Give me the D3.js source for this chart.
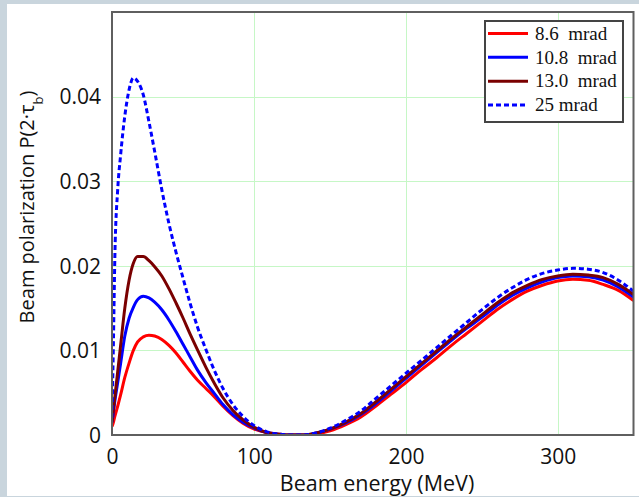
<!DOCTYPE html>
<html>
<head>
<meta charset="utf-8">
<script src="https://cdn.jsdelivr.net/npm/d3@7"></script>
<style>
  html, body { margin: 0; padding: 0; background: #c9d5dd; }
  svg { display: block; }
</style>
</head>
<body>
<svg id="chart" width="639" height="497"></svg>
<script>
// Beam energy grid (MeV)
const energy = [0, 1, 2, 4, 6, 9, 12, 15, 18, 22, 26, 30, 35, 40, 45, 50, 55, 60, 66, 72, 78, 85, 92,
  100, 108, 116, 124, 132, 140, 150, 160, 170, 180, 190, 200, 210, 220, 230, 240, 250, 260, 270,
  280, 290, 300, 310, 320, 330, 340, 350];

// Beam polarization P(2·τb) for each collimation angle
const pol_8_6 = [0.0010, 0.0015, 0.0022, 0.0034, 0.0047, 0.0068, 0.0085, 0.0100, 0.0110, 0.0116, 0.0118,
  0.0117, 0.0113, 0.0106, 0.0097, 0.0086, 0.0075, 0.0065, 0.0055, 0.0045, 0.0034, 0.0023, 0.0014,
  0.0007, 0.0003, 0.0001, 0.0000, 0.0000, 0.0001, 0.0005, 0.0012, 0.0021, 0.0034, 0.0048, 0.0062,
  0.0077, 0.0091, 0.0106, 0.0120, 0.0134, 0.0148, 0.0160, 0.0170, 0.0177, 0.0182, 0.0184, 0.0183,
  0.0178, 0.0171, 0.0159];
const pol_10_8 = [0.0015, 0.0027, 0.0040, 0.0062, 0.0084, 0.0117, 0.0138, 0.0151, 0.0160, 0.0164, 0.0162,
  0.0157, 0.0148, 0.0136, 0.0122, 0.0107, 0.0092, 0.0077, 0.0062, 0.0049, 0.0036, 0.0024, 0.0015,
  0.0008, 0.0003, 0.0001, 0.0000, 0.0000, 0.0002, 0.0007, 0.0014, 0.0024, 0.0037, 0.0052, 0.0067,
  0.0082, 0.0097, 0.0112, 0.0126, 0.0139, 0.0153, 0.0165, 0.0174, 0.0181, 0.0186, 0.0188, 0.0187,
  0.0183, 0.0175, 0.0163];
const pol_13_0 = [0.0015, 0.0030, 0.0045, 0.0075, 0.0105, 0.0150, 0.0183, 0.0203, 0.0211, 0.0211, 0.0206,
  0.0199, 0.0188, 0.0173, 0.0156, 0.0138, 0.0119, 0.0101, 0.0080, 0.0061, 0.0044, 0.0029, 0.0018,
  0.0009, 0.0003, 0.0001, 0.0000, 0.0000, 0.0002, 0.0007, 0.0015, 0.0025, 0.0039, 0.0054, 0.0069,
  0.0084, 0.0099, 0.0114, 0.0128, 0.0142, 0.0156, 0.0168, 0.0177, 0.0184, 0.0188, 0.0190, 0.0189,
  0.0186, 0.0178, 0.0166];
const pol_25 = [0.0020, 0.0110, 0.0210, 0.0290, 0.0330, 0.0377, 0.0408, 0.0422, 0.0418, 0.0402, 0.0370,
  0.0335, 0.0290, 0.0250, 0.0216, 0.0185, 0.0155, 0.0128, 0.0101, 0.0076, 0.0055, 0.0036, 0.0022,
  0.0011, 0.0004, 0.0001, 0.0000, 0.0000, 0.0002, 0.0008, 0.0017, 0.0028, 0.0043, 0.0058, 0.0073,
  0.0088, 0.0103, 0.0118, 0.0133, 0.0148, 0.0162, 0.0174, 0.0184, 0.0191, 0.0195, 0.0197, 0.0196,
  0.0192, 0.0183, 0.0170];

const seriesNames = ["8.6\u00a0\u00a0mrad", "10.8\u00a0\u00a0mrad", "13.0\u00a0\u00a0mrad", "25 mrad"];
const seriesValues = [pol_8_6, pol_10_8, pol_13_0, pol_25];
const seriesColors = ["#ff0000", "#0000ff", "#7a0000", "#0000ff"];
const seriesDashes = [null, null, null, "5,3"];

const xTicks = [0, 100, 200, 300];
const yTicks = [0, 0.01, 0.02, 0.03, 0.04];

const svg = d3.select("#chart");
const W = 639, H = 497;

// page background and white panel
svg.append("rect").attr("width", W).attr("height", H).attr("fill", "#c9d5dd");
svg.append("rect").attr("x", 7).attr("y", 4).attr("width", W - 7).attr("height", 492).attr("fill", "#ffffff");

const plot = { left: 112, right: 633.5, top: 12, bottom: 435 };

const x = d3.scaleLinear().domain([0, 100, 350]).range([plot.left, 254.3, plot.right]);
const y = d3.scaleLinear().domain([0, 0.05]).range([plot.bottom, plot.top]);

// grid
const grid = svg.append("g").attr("stroke", "#c6f7c6").attr("stroke-width", 1);
grid.selectAll("line.vx").data(xTicks.filter(d => d > 0)).join("line")
  .attr("x1", d => Math.round(x(d)) + 0.5).attr("x2", d => Math.round(x(d)) + 0.5)
  .attr("y1", plot.top).attr("y2", plot.bottom);
grid.selectAll("line.hy").data(yTicks.filter(d => d > 0)).join("line")
  .attr("y1", d => Math.round(y(d)) + 0.5).attr("y2", d => Math.round(y(d)) + 0.5)
  .attr("x1", plot.left).attr("x2", plot.right);

// curves
svg.append("clipPath").attr("id", "plotclip").append("rect")
  .attr("x", plot.left).attr("y", plot.top - 2)
  .attr("width", plot.right - plot.left).attr("height", plot.bottom - plot.top + 3);

const line = d3.line()
  .x((d, i) => x(energy[i]))
  .y(d => y(d))
  .curve(d3.curveMonotoneX);

const curves = svg.append("g").attr("clip-path", "url(#plotclip)");
seriesValues.forEach((vals, k) => {
  curves.append("path")
    .attr("d", line(vals))
    .attr("fill", "none")
    .attr("stroke", seriesColors[k])
    .attr("stroke-width", 3)
    .attr("stroke-linejoin", "round")
    .attr("stroke-dasharray", seriesDashes[k]);
});

// frame
svg.append("rect")
  .attr("x", plot.left).attr("y", plot.top)
  .attr("width", plot.right - plot.left).attr("height", plot.bottom - plot.top)
  .attr("fill", "none").attr("stroke", "#5f5f5f").attr("stroke-width", 2);

// axes
const tickFont = "'Open Sans', 'Noto Sans', sans-serif";
const xAxis = d3.axisBottom(x).tickValues(xTicks).tickSize(0).tickPadding(0).tickFormat(d3.format("d"));
const gx = svg.append("g").attr("transform", `translate(0,${plot.bottom})`).call(xAxis);
gx.select(".domain").remove();
gx.selectAll("text").attr("font-family", tickFont).attr("font-size", 21).attr("fill", "#111")
  .attr("dy", null).attr("y", 29);

const yAxis = d3.axisLeft(y).tickValues(yTicks).tickSize(0).tickPadding(0)
  .tickFormat(d => d === 0 ? "0" : d3.format(".2f")(d));
const gy = svg.append("g").attr("transform", `translate(${plot.left},0)`).call(yAxis);
gy.select(".domain").remove();
gy.selectAll("text").attr("font-family", tickFont).attr("font-size", 21).attr("fill", "#111")
  .attr("x", -11).attr("dy", "0.35em");

// axis titles
svg.append("text")
  .attr("x", 377).attr("y", 491)
  .attr("text-anchor", "middle")
  .attr("font-family", tickFont).attr("font-size", 21.5).attr("fill", "#111")
  .text("Beam energy (MeV)");

const yt = svg.append("text")
  .attr("transform", "translate(34,207) rotate(-90)")
  .attr("text-anchor", "middle")
  .attr("font-family", tickFont).attr("font-size", 20).attr("fill", "#111");
yt.append("tspan").text("Beam polarization P(2\u00b7\u03c4");
yt.append("tspan").attr("baseline-shift", "sub").attr("font-size", 13).text("b");
yt.append("tspan").text(")");

// legend
const lg = { x: 485, y: 21, w: 138, h: 101 };
svg.append("rect").attr("x", lg.x).attr("y", lg.y).attr("width", lg.w).attr("height", lg.h)
  .attr("fill", "#ffffff").attr("stroke", "#444").attr("stroke-width", 2);
const rowY = d3.scalePoint().domain(d3.range(seriesNames.length)).range([33.5, 105]);
seriesNames.forEach((name, k) => {
  const yy = rowY(k);
  svg.append("line")
    .attr("x1", lg.x + 3).attr("x2", lg.x + 43)
    .attr("y1", yy).attr("y2", yy)
    .attr("stroke", seriesColors[k]).attr("stroke-width", 3)
    .attr("stroke-dasharray", seriesDashes[k]);
  svg.append("text")
    .attr("x", lg.x + 50).attr("y", yy).attr("dy", "0.33em")
    .attr("font-family", "'Liberation Serif', 'DejaVu Serif', serif")
    .attr("font-size", 19).attr("fill", "#111")
    .text(name);
});
</script>
</body>
</html>
